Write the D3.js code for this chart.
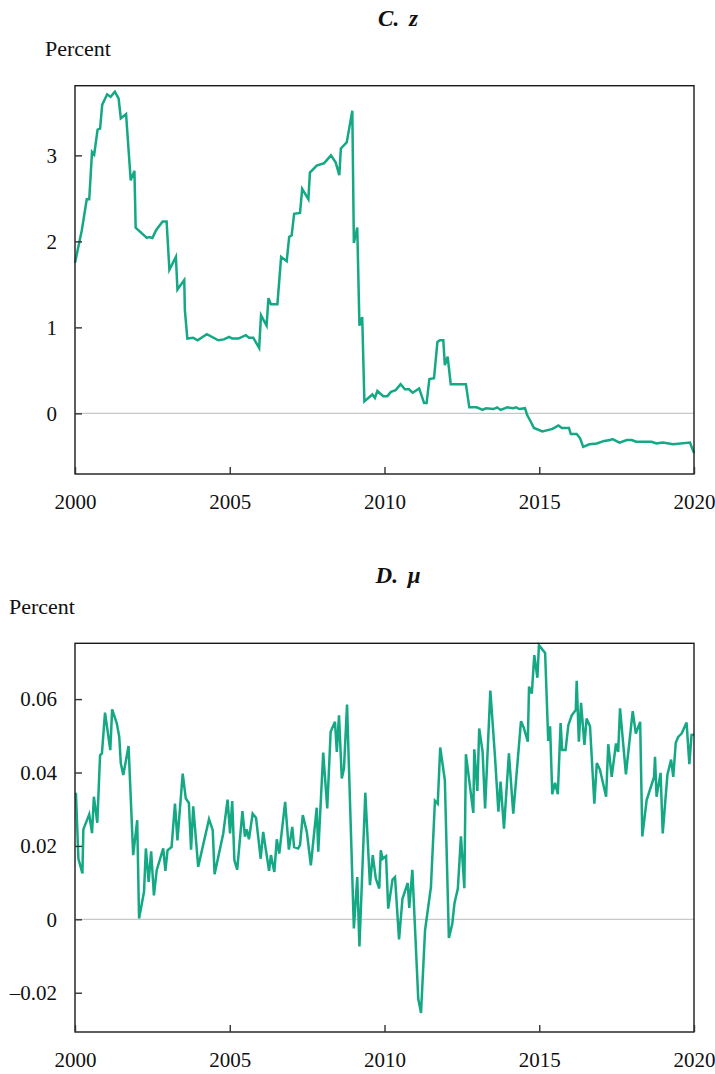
<!DOCTYPE html>
<html>
<head>
<meta charset="utf-8">
<script src="https://cdn.jsdelivr.net/npm/d3@7"></script>
<style>
  body { margin: 0; background: #fff; }
  svg text { font-family: "Liberation Serif", "Times New Roman", serif; fill: #111; }
  .title { font-weight: bold; font-style: italic; word-spacing: 4px; }
</style>
</head>
<body>
<div id="chart"></div>
<script>

/* panels C (z) and D (mu), monthly series 2000-2020 */

// x axis ticks shared by both panels

var yearTicks = [2000, 2005, 2010, 2015, 2020];

// panel C: z

var zTicks = [0, 1, 2, 3];

var zDates = [
  2000.00, 2000.22, 2000.38, 2000.46, 2000.55, 2000.62, 2000.73, 2000.81, 2000.88, 2001.04,
  2001.15, 2001.29, 2001.41, 2001.48, 2001.65, 2001.80, 2001.92, 2001.96, 2002.32, 2002.40,
  2002.50, 2002.62, 2002.83, 2002.96, 2003.05, 2003.26, 2003.31, 2003.53, 2003.55, 2003.63,
  2003.82, 2003.96, 2004.26, 2004.63, 2004.81, 2004.98, 2005.08, 2005.28, 2005.52, 2005.62,
  2005.76, 2005.95, 2006.01, 2006.19, 2006.25, 2006.33, 2006.54, 2006.66, 2006.84, 2006.92,
  2007.00, 2007.08, 2007.27, 2007.34, 2007.54, 2007.59, 2007.81, 2008.05, 2008.27, 2008.42,
  2008.54, 2008.59, 2008.78, 2008.96, 2009.01, 2009.12, 2009.19, 2009.28, 2009.35, 2009.61,
  2009.69, 2009.77, 2009.96, 2010.09, 2010.21, 2010.36, 2010.52, 2010.66, 2010.79, 2010.91,
  2011.12, 2011.28, 2011.36, 2011.45, 2011.60, 2011.71, 2011.79, 2011.90, 2011.95, 2012.04,
  2012.14, 2012.63, 2012.74, 2012.98, 2013.17, 2013.28, 2013.52, 2013.64, 2013.75, 2013.97,
  2014.16, 2014.25, 2014.36, 2014.54, 2014.61, 2014.70, 2014.83, 2015.10, 2015.43, 2015.62,
  2015.73, 2015.96, 2016.02, 2016.21, 2016.32, 2016.42, 2016.62, 2016.86, 2017.10, 2017.29,
  2017.37, 2017.59, 2017.83, 2017.99, 2018.13, 2018.63, 2018.79, 2018.99, 2019.33, 2019.87,
  2020.00
];

var zValues = [
  1.75, 2.13, 2.49, 2.49, 3.04, 3.01, 3.30, 3.31, 3.59, 3.71,
  3.68, 3.74, 3.66, 3.43, 3.48, 2.71, 2.82, 2.16, 2.04, 2.05,
  2.04, 2.13, 2.23, 2.23, 1.67, 1.82, 1.44, 1.55, 1.20, 0.87,
  0.88, 0.85, 0.92, 0.85, 0.86, 0.89, 0.87, 0.87, 0.91, 0.88,
  0.88, 0.76, 1.14, 1.02, 1.34, 1.27, 1.27, 1.82, 1.77, 2.05,
  2.07, 2.32, 2.33, 2.61, 2.49, 2.80, 2.88, 2.91, 3.00, 2.92,
  2.77, 3.08, 3.15, 3.52, 1.98, 2.16, 1.02, 1.12, 0.14, 0.22,
  0.18, 0.26, 0.20, 0.20, 0.25, 0.27, 0.34, 0.28, 0.28, 0.24,
  0.29, 0.12, 0.12, 0.40, 0.41, 0.83, 0.85, 0.85, 0.56, 0.66,
  0.34, 0.34, 0.07, 0.07, 0.04, 0.06, 0.05, 0.07, 0.04, 0.07,
  0.06, 0.07, 0.05, 0.06, -0.02, -0.08, -0.17, -0.21, -0.18, -0.14,
  -0.17, -0.17, -0.24, -0.24, -0.29, -0.39, -0.36, -0.35, -0.32, -0.31,
  -0.30, -0.34, -0.31, -0.31, -0.33, -0.33, -0.35, -0.34, -0.36, -0.34,
  -0.46
];

// panel D: mu

var muTicks = [-0.02, 0, 0.02, 0.04, 0.06];

var muDates = [
  2000.03, 2000.11, 2000.24, 2000.27, 2000.46, 2000.55, 2000.61, 2000.72, 2000.81, 2000.87,
  2000.97, 2001.14, 2001.20, 2001.35, 2001.43, 2001.48, 2001.56, 2001.73, 2001.88, 2002.01,
  2002.07, 2002.23, 2002.29, 2002.38, 2002.46, 2002.55, 2002.64, 2002.85, 2002.92, 2002.99,
  2003.12, 2003.23, 2003.31, 2003.48, 2003.58, 2003.68, 2003.75, 2003.82, 2003.98, 2004.33,
  2004.45, 2004.51, 2004.79, 2004.93, 2005.01, 2005.08, 2005.15, 2005.24, 2005.41, 2005.49,
  2005.55, 2005.62, 2005.74, 2005.85, 2006.00, 2006.08, 2006.27, 2006.33, 2006.44, 2006.52,
  2006.60, 2006.79, 2006.91, 2007.02, 2007.08, 2007.21, 2007.27, 2007.36, 2007.49, 2007.62,
  2007.81, 2007.86, 2008.02, 2008.15, 2008.26, 2008.40, 2008.46, 2008.53, 2008.62, 2008.69,
  2008.79, 2009.01, 2009.12, 2009.19, 2009.38, 2009.53, 2009.62, 2009.72, 2009.83, 2009.88,
  2009.94, 2010.05, 2010.12, 2010.26, 2010.34, 2010.47, 2010.58, 2010.75, 2010.80, 2010.90,
  2011.09, 2011.18, 2011.31, 2011.50, 2011.63, 2011.72, 2011.80, 2011.95, 2012.08, 2012.19,
  2012.26, 2012.37, 2012.47, 2012.58, 2012.63, 2012.87, 2012.90, 2013.00, 2013.06, 2013.17,
  2013.25, 2013.42, 2013.57, 2013.68, 2013.75, 2013.86, 2014.02, 2014.16, 2014.41, 2014.50,
  2014.63, 2014.67, 2014.76, 2014.84, 2014.94, 2014.99, 2015.19, 2015.29, 2015.35, 2015.42,
  2015.51, 2015.60, 2015.69, 2015.74, 2015.85, 2015.94, 2016.05, 2016.18, 2016.21, 2016.28,
  2016.35, 2016.46, 2016.53, 2016.64, 2016.78, 2016.86, 2016.96, 2017.16, 2017.23, 2017.34,
  2017.48, 2017.55, 2017.61, 2017.80, 2018.02, 2018.12, 2018.26, 2018.33, 2018.47, 2018.71,
  2018.74, 2018.79, 2018.92, 2018.99, 2019.14, 2019.26, 2019.33, 2019.41, 2019.49, 2019.60,
  2019.76, 2019.85, 2019.92, 2020.00
];

var muValues = [
  0.0345, 0.0165, 0.0125, 0.0245, 0.0286, 0.0235, 0.0334, 0.0263, 0.0447, 0.0452,
  0.0563, 0.0461, 0.0572, 0.0534, 0.0497, 0.0425, 0.0393, 0.0472, 0.0175, 0.0270,
  0.0002, 0.0075, 0.0193, 0.0102, 0.0185, 0.0065, 0.0134, 0.0193, 0.0132, 0.0188,
  0.0197, 0.0315, 0.0215, 0.0397, 0.0329, 0.0317, 0.0190, 0.0308, 0.0143, 0.0273,
  0.0243, 0.0123, 0.0234, 0.0326, 0.0234, 0.0322, 0.0161, 0.0135, 0.0295, 0.0225,
  0.0245, 0.0218, 0.0288, 0.0276, 0.0165, 0.0238, 0.0132, 0.0175, 0.0129, 0.0218,
  0.0179, 0.0320, 0.0190, 0.0252, 0.0197, 0.0193, 0.0202, 0.0284, 0.0238, 0.0147,
  0.0304, 0.0184, 0.0454, 0.0302, 0.0511, 0.0538, 0.0456, 0.0556, 0.0384, 0.0411,
  0.0585, -0.0025, 0.0115, -0.0074, 0.0345, 0.0093, 0.0175, 0.0111, 0.0084, 0.0188,
  0.0165, 0.0172, 0.0029, 0.0108, 0.0115, -0.0055, 0.0056, 0.0099, 0.0031, 0.0135,
  -0.0216, -0.0255, -0.0030, 0.0088, 0.0323, 0.0315, 0.0468, 0.0379, -0.0051, -0.0012,
  0.0043, 0.0084, 0.0226, 0.0085, 0.0450, 0.0290, 0.0463, 0.0350, 0.0520, 0.0456,
  0.0302, 0.0623, 0.0443, 0.0293, 0.0375, 0.0247, 0.0452, 0.0288, 0.0540, 0.0522,
  0.0484, 0.0634, 0.0615, 0.0720, 0.0658, 0.0747, 0.0726, 0.0486, 0.0526, 0.0341,
  0.0372, 0.0341, 0.0535, 0.0461, 0.0461, 0.0529, 0.0556, 0.0570, 0.0650, 0.0484,
  0.0590, 0.0475, 0.0547, 0.0526, 0.0315, 0.0426, 0.0408, 0.0334, 0.0477, 0.0388,
  0.0479, 0.0456, 0.0575, 0.0395, 0.0567, 0.0506, 0.0538, 0.0226, 0.0325, 0.0388,
  0.0443, 0.0334, 0.0399, 0.0234, 0.0393, 0.0435, 0.0388, 0.0481, 0.0497, 0.0506,
  0.0536, 0.0423, 0.0502, 0.0504
];

// page size and shared styles

var width = 715,
    height = 1074,
    lineColor = "#14a884",
    fontSize = 21;

var svg = d3.select("#chart")
  .append("svg")
    .attr("width", width)
    .attr("height", height);

// x scale is the same for both panels

var xScale = d3.scaleLinear().domain([2000, 2020]).range([75, 694]);

function drawPanel(opts) {

  var yScale = d3.scaleLinear().domain(opts.domain).range([opts.bottom, opts.top]);

  var g = svg.append("g");

  // zero line

  g.append("line")
    .attr("x1", xScale.range()[0])
    .attr("x2", xScale.range()[1])
    .attr("y1", yScale(0))
    .attr("y2", yScale(0))
    .attr("stroke", "#c8c8c8")
    .attr("stroke-width", 1.2);

  // series

  var series = opts.dates.map(function(d, i) { return [d, opts.values[i]]; });

  var line = d3.line()
    .x(function(d) { return xScale(d[0]); })
    .y(function(d) { return yScale(d[1]); });

  g.append("path")
    .datum(series)
    .attr("fill", "none")
    .attr("stroke", lineColor)
    .attr("stroke-width", 2.5)
    .attr("stroke-linejoin", "miter")
    .attr("d", line);

  // frame

  g.append("rect")
    .attr("x", xScale.range()[0])
    .attr("y", opts.top)
    .attr("width", xScale.range()[1] - xScale.range()[0])
    .attr("height", opts.bottom - opts.top)
    .attr("fill", "none")
    .attr("stroke", "#1a1a1a")
    .attr("stroke-width", 1.4);

  // axes, ticks point inward

  var yAxis = g.append("g")
    .attr("transform", "translate(" + xScale.range()[0] + ",0)")
    .call(d3.axisLeft(yScale)
      .tickValues(opts.ticks)
      .tickSize(-7)
      .tickSizeOuter(0)
      .tickPadding(18)
      .tickFormat(opts.format));

  var xAxis = g.append("g")
    .attr("transform", "translate(0," + opts.bottom + ")")
    .call(d3.axisBottom(xScale)
      .tickValues(yearTicks)
      .tickSize(-7)
      .tickSizeOuter(0)
      .tickPadding(20)
      .tickFormat(d3.format("d")));

  [yAxis, xAxis].forEach(function(ax) {
    ax.select(".domain").remove();
    ax.selectAll(".tick line").attr("stroke", "#333").attr("stroke-width", 1.4);
    ax.selectAll(".tick text")
      .attr("fill", "#111")
      .style("font-family", "'Liberation Serif', serif")
      .style("font-size", fontSize + "px");
  });

  // title and unit label

  g.append("text")
    .attr("class", "title")
    .attr("x", 398)
    .attr("y", opts.top - 60)
    .attr("text-anchor", "middle")
    .style("font-size", "23px")
    .text(opts.title);

  g.append("text")
    .attr("x", opts.unitX)
    .attr("y", opts.top - 29.5)
    .style("font-size", "22px")
    .text("Percent");

}

drawPanel({
  title: "C. z",
  dates: zDates,
  values: zValues,
  ticks: zTicks,
  format: d3.format("d"),
  domain: [-0.705, 3.81],
  top: 85.7,
  bottom: 474,
  unitX: 45
});

drawPanel({
  title: "D. \u03bc",
  dates: muDates,
  values: muValues,
  ticks: muTicks,
  format: function(d) { return d === 0 ? "0" : (d < 0 ? "\u2013" : "") + d3.format(".2f")(Math.abs(d)); },
  domain: [-0.0307, 0.0752],
  top: 643.3,
  bottom: 1032,
  unitX: 9
});

</script>
</body>
</html>
